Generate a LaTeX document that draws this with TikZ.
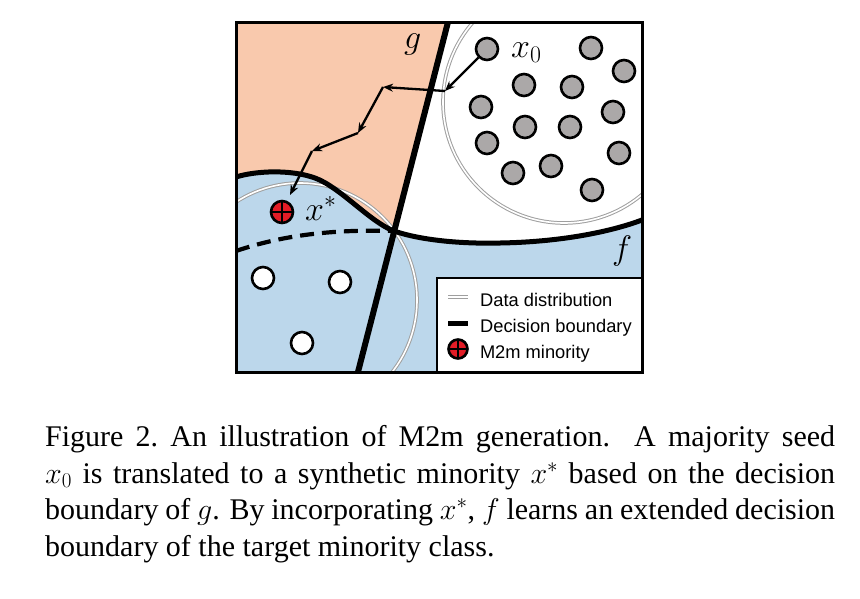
\RequirePackage{fix-cm}
\documentclass[tikz,border=0pt]{standalone}
\usepackage[no-math]{fontspec}
\setmainfont{Liberation Serif}
\newfontfamily\legendfont{Liberation Sans}
\usetikzlibrary{positioning, arrows.meta}

\definecolor{peach}{RGB}{249,201,173}
\definecolor{skyblue}{RGB}{188,215,235}
\definecolor{seedgray}{RGB}{171,168,168}
\definecolor{m2mred}{RGB}{226,28,38}

\begin{document}
\begin{tikzpicture}[x=1pt, y=-1pt,
    majority/.style={circle, draw, line width=2.6pt, fill=seedgray,
                     minimum size=22pt, inner sep=0pt},
    minority/.style={circle, draw, line width=2.6pt, fill=white,
                     minimum size=22pt, inner sep=0pt},
    synth/.style={circle, draw, line width=2.6pt, fill=m2mred,
                  minimum size=22pt, inner sep=0pt,
                  path picture={\draw[line width=2pt]
                    (path picture bounding box.north) -- (path picture bounding box.south)
                    (path picture bounding box.west) -- (path picture bounding box.east);}},
    distrib/.style={draw=gray!75, double=white, line width=1pt, double distance=1.6pt},
    arrow/.style={-{Stealth[length=10pt, width=8pt]}, line width=2.3pt},
    mathlabel/.style={font=\fontsize{34}{40}\selectfont, inner sep=0pt, anchor=base west},
    legendtext/.style={font=\legendfont\fontsize{18.3}{22}\selectfont, anchor=west,
                       inner sep=0pt, text height=18pt, text depth=0pt}]
  \useasboundingbox (0,0) rectangle (860,598);

  \coordinate (tl) at (236,22);
  \coordinate (br) at (642,372);
  \coordinate (bl) at (236,372);
  \coordinate (gtop) at (448,22);
  \coordinate (gbot) at (358,372);
  \coordinate (cross) at (394,231);
  \coordinate (fleft) at (236,177);
  \coordinate (fright) at (642,220);
  \coordinate (dleft) at (236,251);

  \fill[skyblue] (fleft) .. controls (255,171) and (290,169) .. (315,178)
    .. controls (340,187) and (370,222) .. (cross)
    .. controls (420,240) and (460,244) .. (500,243)
    .. controls (560,242) and (610,232) .. (fright) -- (br) -- (bl) -- cycle;
  \fill[peach] (tl) -- (gtop) -- (cross)
    .. controls (370,222) and (340,187) .. (315,178)
    .. controls (290,169) and (255,171) .. (fleft) -- cycle;

  \begin{scope}
    \clip (tl) rectangle (br);
    \draw[distrib] (564,102) circle[radius=121pt];
    \draw[distrib] (300,300) circle[radius=117pt];
  \end{scope}

  \draw[line width=4.2pt, dash pattern=on 14pt off 8pt] (dleft)
    .. controls (280,236) and (330,229) .. (cross);
  \draw[line width=5pt] (fleft) .. controls (255,171) and (290,169) .. (315,178)
    .. controls (340,187) and (370,222) .. (cross)
    .. controls (420,240) and (460,244) .. (500,243)
    .. controls (560,242) and (610,232) .. (fright);
  \draw[line width=6pt] (gtop) -- (gbot);
  \draw[line width=3pt] (tl) rectangle (br);

  \node[majority] (m1) at (487,49) {};
  \node[majority] (m2) at (591,48) {};
  \node[majority] (m3) at (624,71) {};
  \node[majority] (m4) at (524,85) {};
  \node[majority] (m5) at (572,87) {};
  \node[majority] (m6) at (481,107) {};
  \node[majority] (m7) at (613,112) {};
  \node[majority] (m8) at (525,127) {};
  \node[majority] (m9) at (570,127) {};
  \node[majority] (m10) at (487,143) {};
  \node[majority] (m11) at (619,153) {};
  \node[majority] (m12) at (513,173) {};
  \node[majority] (m13) at (551,166) {};
  \node[majority] (m14) at (592,190) {};

  \node[minority] (n1) at (263,278) {};
  \node[minority] (n2) at (340,282) {};
  \node[minority] (n3) at (302,343) {};
  \node[synth] (xs) at (282,212) {};

  \coordinate (a1) at (445,91);
  \coordinate (a2) at (383,87);
  \coordinate (a3) at (358,133);
  \coordinate (a4) at (312,151);
  \coordinate (a5) at (290,195);
  \draw[arrow] (m1) -- (a1);
  \draw[arrow] (a1) -- (a2);
  \draw[arrow] (a2) -- (a3);
  \draw[arrow] (a3) -- (a4);
  \draw[arrow] (a4) -- (a5);

  \node[mathlabel] (x0lab) at (511,57) {$x_0$};
  \node[mathlabel] (xslab) at (305,220) {$x^*$};
  \node[mathlabel] (glab) at (404,48) {$g$};
  \node[mathlabel] (flab) at (612,259) {$f$};

  \draw[line width=2.5pt, fill=white] (437,278) rectangle (br);
  \coordinate (l1a) at (448,297);
  \coordinate (l1b) at (468,297);
  \coordinate (l2a) at (448,323);
  \coordinate (l2b) at (468,323);
  \draw[distrib] (l1a) -- (l1b);
  \draw[line width=5pt] (l2a) -- (l2b);
  \node[synth, minimum size=19pt] (l3) at (458,349) {};
  \node[legendtext, right=12pt of l1b] (t1) {Data distribution};
  \node[legendtext, right=12pt of l2b] (t2) {Decision boundary};
  \node[legendtext, right=11pt of l3] (t3) {M2m minority};

  \node[anchor=north west, inner sep=0pt, align=left,
        font=\fontsize{30}{36.7}\selectfont] (caption) at (45,425) {%
    \makebox[790pt][s]{Figure 2.\ An illustration of M2m generation.  A majority seed}\\
    \makebox[790pt][s]{$x_0$ is translated to a synthetic minority $x^*$ based on the decision}\\
    \makebox[790pt][s]{boundary of $g$. By incorporating $x^*$, $f$ learns an extended decision}\\
    boundary of the target minority class.};
\end{tikzpicture}
\end{document}
